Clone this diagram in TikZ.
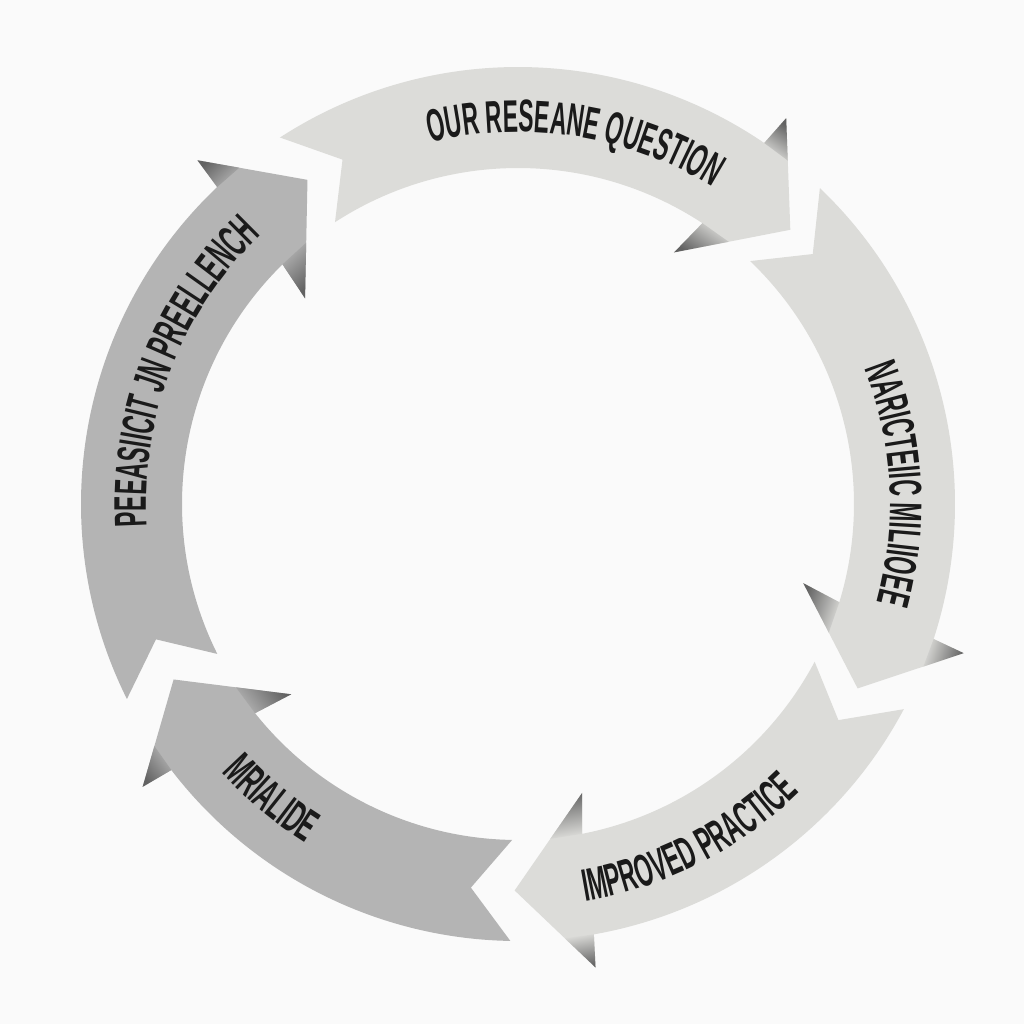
\documentclass[tikz,border=0pt]{standalone}
\usepackage{fontspec}
\usetikzlibrary{decorations.text,calc}

\newfontfamily\ringfont{Liberation Sans}[FakeStretch=0.5]
\definecolor{ringlight}{HTML}{DCDCD9}
\definecolor{ringdark}{HTML}{B4B4B4}
\definecolor{barbshade}{HTML}{626262}
\definecolor{inkblack}{HTML}{1A1A1A}
\definecolor{paper}{HTML}{FAFAFA}
\newcommand{\ringtext}{\ringfont\bfseries\fontsize{13}{13}\selectfont\color{inkblack}}

\begin{document}
\begin{tikzpicture}[
    ringlabel/.style={decorate, decoration={text along path, text align=center,
        text={|\ringtext|#1}}}
  ]
  \def\rin{3.36}
  \def\rout{4.37}
  \def\rmid{3.865}

  \fill[paper] (-5.18,-5.20) rectangle (5.06,5.04);
  \useasboundingbox (-5.18,-5.20) rectangle (5.06,5.04);

  % Pfeile: Ende, Hals, Farbe
  \foreach \tl/\nk/\col in {123/55.7/ringlight, 46.3/-18/ringlight, -28/-80/ringlight,
      269/217.5/ringdark, 206.5/133.5/ringdark}{
    \fill[\col] (\tl:\rout) -- ({\tl-6}:\rmid) -- (\tl:\rin)
      arc[start angle=\tl, end angle=\nk+1, radius=\rin]
      -- ({\nk+2.5}:2.96) -- ({\nk-10.5}:\rmid) -- ({\nk-0.5}:4.70) -- (\nk:\rout)
      arc[start angle=\nk, end angle=\tl, radius=\rout] -- cycle;

    \pgfmathsetmacro\sao{\nk-90}
    \pgfmathsetmacro\sai{\nk+90}
    \shade[top color=barbshade, bottom color=\col, shading angle=\sao]
      (\nk:\rout) -- ({\nk-0.5}:4.70) -- ($({\nk-0.5}:4.70)!0.38!({\nk-10.5}:\rmid)$) -- cycle;
    \shade[top color=barbshade, bottom color=\col, shading angle=\sai]
      ({\nk+1}:\rin) -- ({\nk+2.5}:2.96) -- ($({\nk+2.5}:2.96)!0.47!({\nk-10.5}:\rmid)$) -- cycle;
  }

  % Beschriftung
  \path[ringlabel={OUR RESEANE QUESTION}] (111:3.72) arc[start angle=111, end angle=51, radius=3.72];
  \path[ringlabel={NARICTEIIC MILIIOEE}] (33:3.72) arc[start angle=33, end angle=-27, radius=3.72];
  \path[ringlabel={IMPROVED PRACTICE}] (-93:4.03) arc[start angle=-93, end angle=-33, radius=4.03];
  \path[ringlabel={MRIALIDE}] (200:4.0) arc[start angle=200, end angle=260, radius=4.0];
  \path[ringlabel={PEEASIICIT JN PREELLENCH}] (188.5:3.72) arc[start angle=188.5, end angle=128.5, radius=3.72];

\end{tikzpicture}
\end{document}
